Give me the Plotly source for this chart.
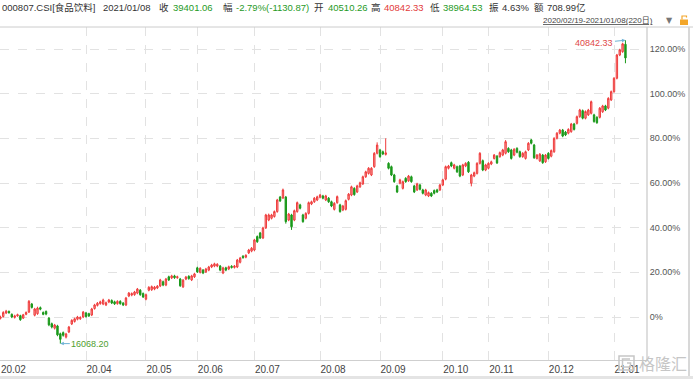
import pandas as pd
import plotly.graph_objects as go

# ---------------- data ----------------
index_name = "000807.CSI[食品饮料]"
last_date = "2021/01/08"
hdr_close = "39401.06"
hdr_change = "-2.79%(-1130.87)"
hdr_open = "40510.26"
hdr_high = "40842.33"
hdr_low = "38964.53"
hdr_amp = "4.63%"
hdr_amount = "708.99亿"
period_text = "2020/02/19-2021/01/08(220日)"
max_label = "40842.33"
min_label = "16068.20"

holidays = ["2020-04-06", "2020-05-01", "2020-05-04", "2020-05-05", "2020-06-25",
            "2020-06-26", "2020-10-01", "2020-10-02", "2020-10-05", "2020-10-06",
            "2020-10-07", "2020-10-08", "2021-01-01"]
dates = [d.strftime("%Y-%m-%d") for d in pd.bdate_range("2020-02-19", "2021-01-08")
         if d.strftime("%Y-%m-%d") not in holidays]

tick_months = ["2020-02", "2020-04", "2020-05", "2020-06", "2020-07", "2020-08",
               "2020-09", "2020-10", "2020-11", "2020-12", "2021-01"]
tick_labels = ["20.02", "20.04", "20.05", "20.06", "20.07", "20.08",
               "20.09", "20.10", "20.11", "20.12", "21.01"]

pct_ticks = [0, 20, 40, 60, 80, 100, 120]
pct_labels = ["0%", "20.00%", "40.00%", "60.00%", "80.00%", "100.00%", "120.00%"]

# OHLC as % change versus the base close (right-hand axis units)
open_pct = [
    -0.6, 0.2, 1.8, 2.5, 1.2, -0.2, 0.5, 0.6, -0.5, 1.2,
    2.2, 5.8, 0.8, 1.5, 4.2, 2.0, 2.5, -0.5, -3.0, -5.0,
    -4.0, -7.5, -7.0, -9.0, -6.7, -3.1, -2.0, -1.0, -0.8, 0.0,
    1.8, 1.5, 0.9, 3.8, 5.2, 6.0, 5.8, 5.4, 6.7, 7.4,
    6.8, 6.0, 7.0, 6.2, 5.4, 9.4, 9.8, 10.0, 10.7, 12.0,
    10.5, 8.0, 12.0, 12.2, 12.5, 13.0, 13.9, 15.8, 14.3, 18.0,
    17.5, 18.4, 17.6, 17.0, 13.5, 17.0, 18.2, 16.6, 18.0, 22.0,
    20.0, 21.0, 20.2, 21.0, 22.4, 22.8, 22.8, 22.8, 19.7, 22.0,
    21.5, 22.7, 22.2, 22.4, 24.5, 27.2, 26.8, 28.7, 29.5, 30.0,
    36.0, 37.6, 35.4, 39.9, 43.4, 44.2, 45.0, 47.2, 53.7, 53.3,
    53.7, 43.4, 45.7, 43.4, 47.2, 50.2, 45.7, 44.2, 46.4, 50.6,
    51.6, 52.4, 53.6, 54.2, 52.4, 53.2, 51.6, 48.2, 51.2, 50.2,
    47.9, 48.2, 52.7, 54.6, 57.6, 56.0, 58.3, 59.6, 62.8, 64.3,
    63.6, 67.3, 73.3, 74.8, 74.0, 72.8, 68.8, 67.3, 63.6, 58.7,
    59.9, 57.6, 62.1, 61.0, 62.8, 58.7, 56.9, 59.1, 56.9, 54.6,
    54.2, 55.4, 56.6, 56.9, 56.9, 59.1, 61.7, 66.6, 69.1, 66.6,
    67.3, 67.6, 63.6, 67.6, 69.3, 59.9, 63.1, 64.3, 68.8, 70.0,
    65.8, 66.6, 68.5, 71.0, 72.0, 71.8, 72.5, 73.3, 75.5, 74.8,
    72.5, 75.5, 74.0, 71.8, 71.0, 74.8, 79.3, 77.0, 71.0, 69.9,
    72.5, 69.5, 73.3, 72.0, 74.0, 80.0, 82.3, 83.7, 82.8, 82.3,
    83.0, 86.4, 86.7, 89.7, 92.4, 89.0, 90.5, 91.2, 90.5, 89.4,
    89.4, 91.9, 94.5, 93.5, 97.2, 100.9, 106.9, 117.3, 118.8, 122.10,
]
close_pct = [
    0.0, 2.0, 2.6, 1.9, 0.0, 0.5, 1.0, -1.2, 1.0, 2.0,
    7.0, 4.3, 3.6, 4.0, 3.5, 1.2, 1.3, -3.5, -4.5, -3.6,
    -8.0, -10.0, -8.2, -7.6, -4.5, -1.5, -0.8, 0.0, -0.2, 2.2,
    0.2, 0.5, 3.6, 5.4, 6.2, 6.8, 7.6, 6.4, 7.6, 6.3,
    5.9, 7.0, 6.0, 5.4, 8.5, 10.7, 10.5, 11.2, 12.5, 10.0,
    9.0, 10.0, 13.3, 13.6, 13.4, 13.8, 16.6, 14.3, 17.0, 16.6,
    18.4, 17.6, 18.0, 14.0, 16.5, 17.9, 17.2, 18.4, 19.3, 20.2,
    21.8, 19.7, 21.5, 22.4, 23.3, 23.8, 23.6, 21.0, 22.0, 21.0,
    22.5, 22.2, 22.8, 25.5, 26.4, 26.6, 27.6, 30.0, 30.8, 34.5,
    33.7, 35.4, 39.9, 45.7, 45.7, 45.7, 47.2, 52.4, 52.0, 56.9,
    42.7, 46.1, 40.4, 47.6, 51.2, 48.7, 42.7, 46.4, 51.2, 51.6,
    53.2, 53.8, 54.6, 53.2, 54.2, 51.6, 49.7, 50.9, 53.9, 47.2,
    49.7, 52.1, 55.0, 58.3, 54.8, 58.7, 60.1, 62.8, 65.0, 66.6,
    66.6, 73.3, 77.0, 71.8, 73.0, 73.5, 66.6, 63.6, 60.6, 56.0,
    61.4, 60.6, 60.6, 63.1, 60.6, 56.0, 59.6, 57.2, 55.4, 56.9,
    55.7, 54.2, 55.4, 56.0, 59.1, 61.4, 67.3, 67.6, 67.6, 68.1,
    65.0, 63.1, 68.1, 68.8, 65.0, 63.6, 64.6, 68.8, 73.3, 65.8,
    68.1, 68.8, 69.5, 72.5, 69.0, 73.6, 74.8, 78.5, 74.0, 71.0,
    75.1, 73.8, 71.8, 73.3, 74.0, 77.8, 77.8, 71.3, 72.5, 72.9,
    69.1, 72.5, 71.0, 74.5, 80.0, 82.3, 83.7, 81.0, 81.5, 84.0,
    86.4, 84.0, 89.7, 92.7, 89.0, 92.0, 92.7, 96.4, 87.5, 87.0,
    93.5, 94.5, 92.7, 97.9, 100.9, 106.9, 117.3, 119.6, 122.3, 116.01,
]
high_pct = [
    0.6, 2.6, 3.2, 2.9, 1.6, 1.0, 1.5, 1.0, 1.4, 2.5,
    7.6, 6.3, 4.1, 4.6, 4.7, 2.5, 2.9, 0.0, -2.5, -3.1,
    -3.5, -7.0, -6.5, -7.1, -4.0, -1.0, -0.3, 0.5, 0.3, 2.7,
    2.3, 1.9, 4.1, 5.9, 6.7, 7.3, 8.2, 6.9, 8.1, 7.9,
    7.3, 7.5, 7.5, 6.7, 9.0, 11.2, 11.0, 11.7, 13.0, 12.5,
    11.0, 10.5, 13.8, 14.1, 13.9, 14.3, 17.1, 16.3, 17.5, 18.5,
    18.9, 18.9, 18.5, 17.5, 17.0, 18.4, 18.7, 18.9, 19.8, 22.5,
    22.3, 21.5, 22.0, 22.9, 23.8, 24.3, 24.1, 23.3, 22.5, 22.5,
    23.0, 23.2, 23.3, 26.0, 26.9, 27.7, 28.1, 30.5, 31.3, 35.0,
    36.5, 38.1, 40.4, 46.2, 46.3, 46.2, 47.7, 52.9, 54.2, 57.5,
    54.2, 46.6, 46.2, 48.1, 51.7, 50.7, 46.2, 46.9, 51.7, 52.1,
    53.7, 54.3, 55.1, 54.7, 54.7, 53.7, 52.1, 51.4, 54.4, 50.7,
    50.2, 52.6, 55.5, 58.8, 58.1, 59.2, 60.6, 63.3, 65.5, 67.1,
    67.1, 73.8, 78.2, 75.3, 74.5, 80.0, 69.3, 67.8, 64.1, 59.2,
    61.9, 61.1, 62.6, 63.6, 63.3, 59.2, 60.1, 59.6, 57.4, 57.4,
    56.2, 55.9, 57.1, 57.4, 59.6, 61.9, 67.8, 68.1, 69.6, 68.6,
    67.8, 68.1, 68.6, 69.3, 69.8, 64.1, 65.1, 69.3, 73.8, 70.5,
    68.6, 69.3, 70.0, 73.0, 72.5, 74.1, 75.3, 79.2, 76.0, 75.3,
    75.6, 76.0, 74.5, 73.8, 74.5, 78.3, 79.8, 77.5, 73.0, 73.4,
    73.0, 73.0, 73.8, 75.0, 80.5, 82.8, 84.2, 84.2, 83.3, 84.5,
    86.9, 86.9, 90.2, 93.2, 92.9, 92.5, 93.2, 96.9, 91.0, 89.9,
    94.0, 95.0, 95.0, 98.4, 101.4, 107.4, 117.8, 120.1, 122.8, 123.92,
]
low_pct = [
    -1.1, -0.2, 1.3, 1.5, -0.5, -0.7, 0.1, -1.7, -0.9, 0.8,
    1.8, 3.8, 0.3, 1.0, 3.0, 0.8, 0.8, -4.1, -5.1, -5.6,
    -8.6, -11.91, -8.8, -9.6, -7.2, -3.6, -2.5, -1.5, -1.3, -0.5,
    -0.3, 0.0, 0.4, 3.3, 4.7, 5.5, 5.3, 4.9, 6.2, 5.8,
    5.4, 5.5, 5.5, 4.9, 4.9, 8.9, 9.3, 9.5, 10.2, 9.5,
    8.5, 7.5, 11.5, 11.7, 12.0, 12.5, 13.4, 13.8, 13.8, 16.1,
    17.0, 17.1, 17.1, 13.5, 13.0, 16.5, 16.7, 16.1, 17.5, 19.7,
    19.5, 19.2, 19.7, 20.5, 21.9, 22.3, 22.3, 20.5, 19.2, 20.5,
    21.0, 21.7, 21.7, 21.9, 24.0, 26.1, 26.3, 28.2, 29.0, 29.5,
    33.2, 34.9, 34.9, 39.4, 42.9, 43.7, 44.5, 46.7, 51.5, 52.8,
    41.8, 42.9, 39.0, 42.9, 46.7, 48.2, 42.2, 43.7, 45.9, 50.1,
    51.1, 51.9, 53.1, 52.7, 51.9, 51.1, 49.2, 47.7, 50.7, 46.7,
    47.4, 47.7, 52.2, 54.1, 54.3, 55.5, 57.8, 59.1, 62.3, 63.8,
    63.1, 66.8, 72.8, 71.3, 72.5, 72.3, 66.1, 63.1, 60.1, 55.5,
    59.4, 57.1, 60.1, 60.5, 60.1, 55.5, 56.4, 56.7, 54.9, 54.1,
    53.7, 53.7, 54.9, 55.5, 56.4, 58.6, 61.2, 66.1, 67.1, 66.1,
    64.5, 62.6, 63.1, 67.1, 64.5, 58.5, 62.6, 63.8, 68.3, 65.3,
    65.3, 66.1, 68.0, 70.5, 68.5, 71.3, 72.0, 72.8, 73.5, 70.5,
    72.0, 73.3, 71.3, 71.3, 70.5, 74.3, 77.3, 70.8, 70.5, 69.4,
    68.6, 69.0, 70.5, 71.5, 73.5, 79.5, 81.8, 80.5, 81.0, 81.8,
    82.5, 83.5, 86.2, 89.2, 88.5, 88.5, 90.0, 90.7, 87.0, 86.5,
    88.9, 91.4, 92.2, 93.0, 96.7, 100.4, 106.4, 116.8, 118.3, 113.62,
]

# ---------------- figure ----------------
W, H = 693, 379
ML, MR, MT, MB = 0, 47, 27, 19
PW, PH = W - ML - MR, H - MT - MB


def px(xp):
    return (xp - ML) / PW


def py(yp):
    return (H - MB - yp) / PH


tickvals = [next(d for d in dates if d.startswith(m)) for m in tick_months]
i_max = high_pct.index(max(high_pct))
i_min = low_pct.index(min(low_pct))

fig = go.Figure()
fig.add_trace(go.Candlestick(
    x=dates, open=open_pct, high=high_pct, low=low_pct, close=close_pct,
    increasing=dict(line=dict(color="#ef3b3b", width=1), fillcolor="#f6a3a3"),
    decreasing=dict(line=dict(color="#1b991b", width=1), fillcolor="#1b991b"),
    whiskerwidth=0, showlegend=False, hoverinfo="skip",
))

font_main = "Liberation Sans, Noto Sans CJK SC, sans-serif"
grid_c = "#e2e2e2"

fig.update_layout(
    width=W, height=H,
    margin=dict(l=ML, r=MR, t=MT, b=MB, pad=0),
    paper_bgcolor="white", plot_bgcolor="white",
    font=dict(family=font_main, size=10, color="#444"),
    showlegend=False,
    xaxis=dict(
        type="category", range=[-0.14, 226.2],
        tickmode="array", tickvals=tickvals, ticktext=tick_labels,
        ticklabelshift=13, ticks="",
        showgrid=True, gridcolor=grid_c, griddash="dash", gridwidth=1,
        showline=True, linecolor="#cfcfcf", linewidth=1,
        zeroline=False, rangeslider=dict(visible=False),
        tickfont=dict(size=10, color="#444"), fixedrange=True,
    ),
    yaxis=dict(
        side="right", range=[-19.25, 129.85],
        tickmode="array", tickvals=pct_ticks, ticktext=pct_labels,
        showgrid=True, gridcolor=grid_c, griddash="dash", gridwidth=1,
        showline=True, linecolor="#dedede", linewidth=2,
        zeroline=False, ticks="",
        tickfont=dict(size=9, color="#555"), fixedrange=True,
    ),
)

anns = []
# header
green, red, dark = "#1f9a1f", "#e23a3a", "#333333"
header = [
    (0, index_name, dark), (101, last_date, dark), (157, "收", dark), (171, hdr_close, green),
    (221, "幅", dark), (234, hdr_change, green), (312, "开", dark), (326, hdr_open, green),
    (369, "高", dark), (382, hdr_high, red), (428, "低", dark), (441, hdr_low, green),
    (487, "振", dark), (500, hdr_amp, dark), (532, "额", dark), (545, hdr_amount, dark),
]
for xx, txt, col in header:
    anns.append(dict(x=px(xx), y=py(7), xref="paper", yref="paper", text=txt,
                     showarrow=False, xanchor="left", yanchor="middle",
                     font=dict(size=9.5, color=col, family=font_main)))
anns.append(dict(x=px(541), y=py(21), xref="paper", yref="paper",
                 text="<u>" + period_text + "</u>", showarrow=False,
                 xanchor="left", yanchor="middle",
                 font=dict(size=8, color="#444", family=font_main)))
anns.append(dict(x=px(664), y=py(21), xref="paper", yref="paper", text="▼",
                 showarrow=False, xanchor="left", yanchor="middle",
                 font=dict(size=8, color="#777", family="DejaVu Sans")))
# max / min markers
anns.append(dict(x=dates[i_max], y=high_pct[i_max], xref="x", yref="y", text=max_label,
                 showarrow=True, arrowhead=2, arrowsize=0.7, arrowwidth=1,
                 arrowcolor="#6fb3d6", ax=-31, ay=3,
                 font=dict(size=9, color="#e04848", family=font_main)))
anns.append(dict(x=dates[i_min], y=low_pct[i_min], xref="x", yref="y", text=min_label,
                 showarrow=True, arrowhead=2, arrowsize=0.7, arrowwidth=1,
                 arrowcolor="#6fb3d6", ax=30, ay=0,
                 font=dict(size=9, color="#4f9e2f", family=font_main)))
# watermark
anns.append(dict(x=px(637), y=py(363), xref="paper", yref="paper", text="格隆汇",
                 showarrow=False, xanchor="left", yanchor="middle",
                 font=dict(size=16, color="#c6c6c6", family="Noto Sans CJK SC")))
fig.update_layout(annotations=anns)

shapes = [
    dict(type="line", xref="paper", yref="paper", x0=px(0), x1=px(W), y0=py(27), y1=py(27),
         line=dict(color="#cccccc", width=1)),
    dict(type="line", xref="paper", yref="paper", x0=px(689), x1=px(689), y0=py(27), y1=py(376),
         line=dict(color="#d8d8d8", width=2)),
    dict(type="rect", xref="paper", yref="paper", x0=px(0), x1=px(W), y0=py(376), y1=py(379),
         line=dict(width=0), fillcolor="#e4e4e4"),
    # watermark logo box with a "G"-like hook
    dict(type="rect", xref="paper", yref="paper", x0=px(619), x1=px(634), y0=py(370), y1=py(356),
         line=dict(color="#c6c6c6", width=1.5)),
    dict(type="path", xref="paper", yref="paper",
         path=(f"M {px(630)},{py(359)} L {px(622.5)},{py(359)} L {px(622.5)},{py(367)} "
               f"L {px(630.5)},{py(367)} L {px(630.5)},{py(363)} L {px(627)},{py(363)}"),
         line=dict(color="#c6c6c6", width=1.5)),
    # small lock icon
    dict(type="rect", xref="paper", yref="paper", x0=px(680), x1=px(688), y0=py(25), y1=py(19.5),
         line=dict(width=0), fillcolor="#f3a62a"),
    dict(type="path", xref="paper", yref="paper",
         path=f"M {px(682)},{py(19.5)} L {px(682)},{py(16)} L {px(686.5)},{py(16)} L {px(686.5)},{py(17.5)}",
         line=dict(color="#f3a62a", width=1.2)),
]
fig.update_layout(shapes=shapes)

fig.write_html("out.html", config={"displayModeBar": False},
               post_script="document.body.style.margin='0';document.body.style.overflow='hidden';")
